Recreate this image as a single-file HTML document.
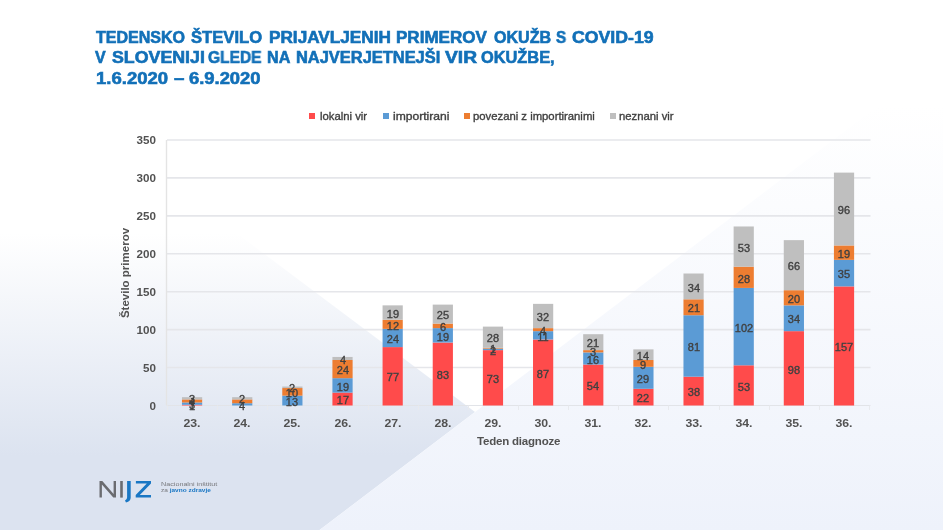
<!DOCTYPE html>
<html><head><meta charset="utf-8">
<style>
html,body{margin:0;padding:0;}
body{width:943px;height:530px;overflow:hidden;position:relative;background:#fff;font-family:"Liberation Sans",sans-serif;}
.dl,.yl,.xl,.at,.leg,.t{will-change:transform;}
#bg{position:absolute;left:0;top:0;}
.t{position:absolute;color:#1270b8;-webkit-text-stroke:0.6px #1270b8;font-weight:bold;font-size:16px;line-height:20px;white-space:nowrap;transform-origin:0 0;}
.leg{position:absolute;top:109px;font-size:11.3px;color:#404040;-webkit-text-stroke:0.35px #404040;white-space:nowrap;line-height:14px;}
.sq{position:absolute;width:6px;height:6px;top:113px;}
.dl{position:absolute;width:40px;text-align:center;font-size:10.8px;line-height:14px;color:#404040;font-weight:normal;-webkit-text-stroke:0.35px #404040;transform:scaleX(1.02);}
.yl{position:absolute;left:121.3px;width:35px;text-align:right;font-size:10.6px;line-height:14px;color:#525252;font-weight:bold;transform:scaleX(1.1);transform-origin:100% 50%;}
.xl{position:absolute;top:416px;width:40px;text-align:center;font-size:10.6px;line-height:14px;color:#525252;font-weight:bold;transform:scaleX(1.16);}
.at{position:absolute;font-size:11.5px;color:#525252;font-weight:bold;white-space:nowrap;line-height:14px;}
</style></head><body>
<svg id="bg" width="943" height="530" viewBox="0 0 943 530">
<defs>
<linearGradient id="gA" x1="0" y1="0" x2="0" y2="530" gradientUnits="userSpaceOnUse">
<stop offset="0" stop-color="#ffffff"/><stop offset="0.44" stop-color="#ffffff"/><stop offset="0.86" stop-color="#dce3f0"/><stop offset="1" stop-color="#dce3f0"/></linearGradient>
<linearGradient id="gB" x1="0" y1="0" x2="0" y2="530" gradientUnits="userSpaceOnUse">
<stop offset="0" stop-color="#ffffff"/><stop offset="0.2" stop-color="#ffffff"/><stop offset="1" stop-color="#eef2fb"/></linearGradient>
</defs>
<rect x="0" y="0" width="943" height="530" fill="#ffffff"/>
<polygon points="0,55.75 475,412 319.6,530 0,530" fill="url(#gA)"/>
<polygon points="319.6,530 943,56.7 943,530" fill="url(#gB)"/>
<line x1="167" y1="367.57" x2="870.5" y2="367.57" stroke="#e5e6ea" stroke-width="1.6"/>
<line x1="167" y1="329.64" x2="870.5" y2="329.64" stroke="#e5e6ea" stroke-width="1.6"/>
<line x1="167" y1="291.71" x2="870.5" y2="291.71" stroke="#e5e6ea" stroke-width="1.6"/>
<line x1="167" y1="253.78" x2="870.5" y2="253.78" stroke="#e5e6ea" stroke-width="1.6"/>
<line x1="167" y1="215.85" x2="870.5" y2="215.85" stroke="#e5e6ea" stroke-width="1.6"/>
<line x1="167" y1="177.92" x2="870.5" y2="177.92" stroke="#e5e6ea" stroke-width="1.6"/>
<line x1="167" y1="139.99" x2="870.5" y2="139.99" stroke="#e5e6ea" stroke-width="1.6"/>
<line x1="166.5" y1="140" x2="166.5" y2="405.5" stroke="#e4e4e4" stroke-width="1.4"/>
<line x1="167" y1="405.5" x2="870.5" y2="405.5" stroke="#e2e4e8" stroke-width="1"/>
<line x1="167.5" y1="405.5" x2="167.5" y2="410" stroke="#e8eaee" stroke-width="1"/>
<line x1="217.5" y1="405.5" x2="217.5" y2="410" stroke="#e8eaee" stroke-width="1"/>
<line x1="267.5" y1="405.5" x2="267.5" y2="410" stroke="#e8eaee" stroke-width="1"/>
<line x1="317.5" y1="405.5" x2="317.5" y2="410" stroke="#e8eaee" stroke-width="1"/>
<line x1="368.5" y1="405.5" x2="368.5" y2="410" stroke="#e8eaee" stroke-width="1"/>
<line x1="418.5" y1="405.5" x2="418.5" y2="410" stroke="#e8eaee" stroke-width="1"/>
<line x1="468.5" y1="405.5" x2="468.5" y2="410" stroke="#e8eaee" stroke-width="1"/>
<line x1="518.5" y1="405.5" x2="518.5" y2="410" stroke="#e8eaee" stroke-width="1"/>
<line x1="568.5" y1="405.5" x2="568.5" y2="410" stroke="#e8eaee" stroke-width="1"/>
<line x1="618.5" y1="405.5" x2="618.5" y2="410" stroke="#e8eaee" stroke-width="1"/>
<line x1="668.5" y1="405.5" x2="668.5" y2="410" stroke="#e8eaee" stroke-width="1"/>
<line x1="719.5" y1="405.5" x2="719.5" y2="410" stroke="#e8eaee" stroke-width="1"/>
<line x1="769.5" y1="405.5" x2="769.5" y2="410" stroke="#e8eaee" stroke-width="1"/>
<line x1="819.5" y1="405.5" x2="819.5" y2="410" stroke="#e8eaee" stroke-width="1"/>
<line x1="869.5" y1="405.5" x2="869.5" y2="410" stroke="#e8eaee" stroke-width="1"/>
<rect x="181.97" y="404.74" width="20.2" height="0.76" fill="#ff4b4b"/>
<rect x="181.97" y="402.47" width="20.2" height="2.28" fill="#5b9bd5"/>
<rect x="181.97" y="399.43" width="20.2" height="3.03" fill="#ed7d31"/>
<rect x="181.97" y="397.16" width="20.2" height="2.28" fill="#bfbfbf"/>
<rect x="232.12" y="403.22" width="20.2" height="2.28" fill="#5b9bd5"/>
<rect x="232.12" y="399.43" width="20.2" height="3.79" fill="#ed7d31"/>
<rect x="232.12" y="397.16" width="20.2" height="2.28" fill="#bfbfbf"/>
<rect x="282.27" y="395.64" width="20.2" height="9.86" fill="#5b9bd5"/>
<rect x="282.27" y="388.05" width="20.2" height="7.59" fill="#ed7d31"/>
<rect x="282.27" y="386.54" width="20.2" height="1.52" fill="#bfbfbf"/>
<rect x="332.42" y="392.60" width="20.2" height="12.90" fill="#ff4b4b"/>
<rect x="332.42" y="378.19" width="20.2" height="14.41" fill="#5b9bd5"/>
<rect x="332.42" y="359.98" width="20.2" height="18.21" fill="#ed7d31"/>
<rect x="332.42" y="356.95" width="20.2" height="3.03" fill="#bfbfbf"/>
<rect x="382.57" y="347.09" width="20.2" height="58.41" fill="#ff4b4b"/>
<rect x="382.57" y="328.88" width="20.2" height="18.21" fill="#5b9bd5"/>
<rect x="382.57" y="319.78" width="20.2" height="9.10" fill="#ed7d31"/>
<rect x="382.57" y="305.36" width="20.2" height="14.41" fill="#bfbfbf"/>
<rect x="432.72" y="342.54" width="20.2" height="62.96" fill="#ff4b4b"/>
<rect x="432.72" y="328.12" width="20.2" height="14.41" fill="#5b9bd5"/>
<rect x="432.72" y="323.57" width="20.2" height="4.55" fill="#ed7d31"/>
<rect x="432.72" y="304.61" width="20.2" height="18.96" fill="#bfbfbf"/>
<rect x="482.87" y="350.12" width="20.2" height="55.38" fill="#ff4b4b"/>
<rect x="482.87" y="348.61" width="20.2" height="1.52" fill="#5b9bd5"/>
<rect x="482.87" y="347.85" width="20.2" height="0.76" fill="#ed7d31"/>
<rect x="482.87" y="326.61" width="20.2" height="21.24" fill="#bfbfbf"/>
<rect x="533.02" y="339.50" width="20.2" height="66.00" fill="#ff4b4b"/>
<rect x="533.02" y="331.16" width="20.2" height="8.34" fill="#5b9bd5"/>
<rect x="533.02" y="328.12" width="20.2" height="3.03" fill="#ed7d31"/>
<rect x="533.02" y="303.85" width="20.2" height="24.28" fill="#bfbfbf"/>
<rect x="583.17" y="364.54" width="20.2" height="40.96" fill="#ff4b4b"/>
<rect x="583.17" y="352.40" width="20.2" height="12.14" fill="#5b9bd5"/>
<rect x="583.17" y="350.12" width="20.2" height="2.28" fill="#ed7d31"/>
<rect x="583.17" y="334.19" width="20.2" height="15.93" fill="#bfbfbf"/>
<rect x="633.32" y="388.81" width="20.2" height="16.69" fill="#ff4b4b"/>
<rect x="633.32" y="366.81" width="20.2" height="22.00" fill="#5b9bd5"/>
<rect x="633.32" y="359.98" width="20.2" height="6.83" fill="#ed7d31"/>
<rect x="633.32" y="349.36" width="20.2" height="10.62" fill="#bfbfbf"/>
<rect x="683.47" y="376.67" width="20.2" height="28.83" fill="#ff4b4b"/>
<rect x="683.47" y="315.23" width="20.2" height="61.45" fill="#5b9bd5"/>
<rect x="683.47" y="299.30" width="20.2" height="15.93" fill="#ed7d31"/>
<rect x="683.47" y="273.50" width="20.2" height="25.79" fill="#bfbfbf"/>
<rect x="733.62" y="365.29" width="20.2" height="40.21" fill="#ff4b4b"/>
<rect x="733.62" y="287.92" width="20.2" height="77.38" fill="#5b9bd5"/>
<rect x="733.62" y="266.68" width="20.2" height="21.24" fill="#ed7d31"/>
<rect x="733.62" y="226.47" width="20.2" height="40.21" fill="#bfbfbf"/>
<rect x="783.77" y="331.16" width="20.2" height="74.34" fill="#ff4b4b"/>
<rect x="783.77" y="305.36" width="20.2" height="25.79" fill="#5b9bd5"/>
<rect x="783.77" y="290.19" width="20.2" height="15.17" fill="#ed7d31"/>
<rect x="783.77" y="240.13" width="20.2" height="50.07" fill="#bfbfbf"/>
<rect x="833.92" y="286.40" width="20.2" height="119.10" fill="#ff4b4b"/>
<rect x="833.92" y="259.85" width="20.2" height="26.55" fill="#5b9bd5"/>
<rect x="833.92" y="245.44" width="20.2" height="14.41" fill="#ed7d31"/>
<rect x="833.92" y="172.61" width="20.2" height="72.83" fill="#bfbfbf"/>
</svg>
<div class="t" style="left:96.00px;top:28px;transform:scaleX(1.002)">TEDENSKO</div>
<div class="t" style="left:191.10px;top:28px;transform:scaleX(1.038)">ŠTEVILO</div>
<div class="t" style="left:268.53px;top:28px;transform:scaleX(1.074)">PRIJAVLJENIH</div>
<div class="t" style="left:396.04px;top:28px;transform:scaleX(1.064)">PRIMEROV</div>
<div class="t" style="left:493.90px;top:28px;transform:scaleX(1.005)">OKUŽB</div>
<div class="t" style="left:555.90px;top:28px;transform:scaleX(0.950)">S</div>
<div class="t" style="left:571.80px;top:28px;transform:scaleX(1.105)">COVID-19</div>
<div class="t" style="left:95.10px;top:48.3px;transform:scaleX(1.000)">V</div>
<div class="t" style="left:111.80px;top:48.3px;transform:scaleX(1.111)">SLOVENIJI</div>
<div class="t" style="left:208.10px;top:48.3px;transform:scaleX(0.969)">GLEDE</div>
<div class="t" style="left:267.39px;top:48.3px;transform:scaleX(1.009)">NA</div>
<div class="t" style="left:295.97px;top:48.3px;transform:scaleX(1.027)">NAJVERJETNEJŠI</div>
<div class="t" style="left:444.50px;top:48.3px;transform:scaleX(1.200)">VIR</div>
<div class="t" style="left:481.20px;top:48.3px;transform:scaleX(1.023)">OKUŽBE,</div>
<div class="t" style="left:95.54px;top:68.6px;transform:scaleX(1.157)">1.6.2020</div>
<div class="t" style="left:174.00px;top:68.6px;transform:scaleX(1.167)">–</div>
<div class="t" style="left:189.30px;top:68.6px;transform:scaleX(1.148)">6.9.2020</div>
<div class="sq" style="left:309px;background:#ff4b4b"></div><div class="leg" style="left:320px">lokalni vir</div>
<div class="sq" style="left:383px;background:#5b9bd5"></div><div class="leg" style="left:392.6px;transform:scaleX(1.07);transform-origin:0 0">importirani</div>
<div class="sq" style="left:464px;background:#ed7d31"></div><div class="leg" style="left:473px">povezani z importiranimi</div>
<div class="sq" style="left:610px;background:#bfbfbf"></div><div class="leg" style="left:619px">neznani vir</div>
<div class="dl" style="left:172.07px;top:399.32px">1</div>
<div class="dl" style="left:172.07px;top:397.80px">3</div>
<div class="dl" style="left:172.07px;top:395.15px">4</div>
<div class="dl" style="left:172.07px;top:392.49px">3</div>
<div class="dl" style="left:222.22px;top:398.56px">4</div>
<div class="dl" style="left:222.22px;top:392.49px">2</div>
<div class="dl" style="left:272.37px;top:394.77px">13</div>
<div class="dl" style="left:272.37px;top:386.05px">10</div>
<div class="dl" style="left:272.37px;top:381.49px">2</div>
<div class="dl" style="left:322.52px;top:393.25px">17</div>
<div class="dl" style="left:322.52px;top:379.60px">19</div>
<div class="dl" style="left:322.52px;top:363.29px">24</div>
<div class="dl" style="left:322.52px;top:352.67px">4</div>
<div class="dl" style="left:372.67px;top:370.49px">77</div>
<div class="dl" style="left:372.67px;top:332.18px">24</div>
<div class="dl" style="left:372.67px;top:318.53px">12</div>
<div class="dl" style="left:372.67px;top:306.77px">19</div>
<div class="dl" style="left:422.82px;top:368.22px">83</div>
<div class="dl" style="left:422.82px;top:329.53px">19</div>
<div class="dl" style="left:422.82px;top:320.05px">6</div>
<div class="dl" style="left:422.82px;top:308.29px">25</div>
<div class="dl" style="left:472.97px;top:372.01px">73</div>
<div class="dl" style="left:472.97px;top:343.56px">2</div>
<div class="dl" style="left:472.97px;top:342.43px">1</div>
<div class="dl" style="left:472.97px;top:331.43px">28</div>
<div class="dl" style="left:523.12px;top:366.70px">87</div>
<div class="dl" style="left:523.12px;top:329.53px">11</div>
<div class="dl" style="left:523.12px;top:323.84px">4</div>
<div class="dl" style="left:523.12px;top:310.19px">32</div>
<div class="dl" style="left:573.27px;top:379.22px">54</div>
<div class="dl" style="left:573.27px;top:352.67px">16</div>
<div class="dl" style="left:573.27px;top:345.46px">3</div>
<div class="dl" style="left:573.27px;top:336.36px">21</div>
<div class="dl" style="left:623.42px;top:391.36px">22</div>
<div class="dl" style="left:623.42px;top:372.01px">29</div>
<div class="dl" style="left:623.42px;top:357.60px">9</div>
<div class="dl" style="left:623.42px;top:348.87px">14</div>
<div class="dl" style="left:673.57px;top:385.29px">38</div>
<div class="dl" style="left:673.57px;top:340.15px">81</div>
<div class="dl" style="left:673.57px;top:301.46px">21</div>
<div class="dl" style="left:673.57px;top:280.60px">34</div>
<div class="dl" style="left:723.72px;top:379.60px">53</div>
<div class="dl" style="left:723.72px;top:320.81px">102</div>
<div class="dl" style="left:723.72px;top:271.50px">28</div>
<div class="dl" style="left:723.72px;top:240.77px">53</div>
<div class="dl" style="left:773.87px;top:362.53px">98</div>
<div class="dl" style="left:773.87px;top:312.46px">34</div>
<div class="dl" style="left:773.87px;top:291.98px">20</div>
<div class="dl" style="left:773.87px;top:259.36px">66</div>
<div class="dl" style="left:824.02px;top:340.15px">157</div>
<div class="dl" style="left:824.02px;top:267.32px">35</div>
<div class="dl" style="left:824.02px;top:246.84px">19</div>
<div class="dl" style="left:824.02px;top:203.22px">96</div>
<div class="yl" style="top:398.50px">0</div>
<div class="yl" style="top:360.57px">50</div>
<div class="yl" style="top:322.64px">100</div>
<div class="yl" style="top:284.71px">150</div>
<div class="yl" style="top:246.78px">200</div>
<div class="yl" style="top:208.85px">250</div>
<div class="yl" style="top:170.92px">300</div>
<div class="yl" style="top:132.99px">350</div>
<div class="xl" style="left:172.07px">23.</div>
<div class="xl" style="left:222.22px">24.</div>
<div class="xl" style="left:272.37px">25.</div>
<div class="xl" style="left:322.52px">26.</div>
<div class="xl" style="left:372.67px">27.</div>
<div class="xl" style="left:422.82px">28.</div>
<div class="xl" style="left:472.97px">29.</div>
<div class="xl" style="left:523.12px">30.</div>
<div class="xl" style="left:573.27px">31.</div>
<div class="xl" style="left:623.42px">32.</div>
<div class="xl" style="left:673.57px">33.</div>
<div class="xl" style="left:723.72px">34.</div>
<div class="xl" style="left:773.87px">35.</div>
<div class="xl" style="left:824.02px">36.</div>
<div class="at" style="left:477px;top:434px;letter-spacing:-0.2px">Teden diagnoze</div>
<div class="at" id="ytitle" style="left:78px;top:266px;transform:rotate(-90deg);transform-origin:center;width:94px;text-align:center">Število primerov</div>
<!-- logo -->
<svg style="position:absolute;left:0;top:0" width="943" height="530" viewBox="0 0 943 530">
<g fill="#6b6c70">
<polygon points="99.5,481 102.3,481 113.6,494 113.6,481 116,481 116,497.6 113.3,497.6 101.9,484.6 101.9,497.6 99.5,497.6"/>
<rect x="120.2" y="481" width="2.6" height="16.6"/>
</g>
<g fill="#1a77c4">
<path d="M127.1,481 H130.7 V497.5 Q130.7,501.5 126,502.6 L125,500.6 Q127.1,499.8 127.1,497.2 Z"/>
<path d="M135.9,481 H151 V483.6 L139.8,495 H151 V497.6 H135.7 V495 L146.8,483.6 H135.9 Z"/>
</g>
</svg>
<div style="position:absolute;left:160.6px;top:480.6px;font-size:5.8px;line-height:6px;color:#77787c;white-space:nowrap;transform-origin:0 0;transform:scaleX(1.24)" id="lg1">Nacionalni inštitut</div>
<div style="position:absolute;left:160.6px;top:486.8px;font-size:5.8px;line-height:6px;color:#77787c;white-space:nowrap;transform-origin:0 0;transform:scaleX(1.12)" id="lg2">za <b style="color:#1a77c4">javno zdravje</b></div>
</body></html>
